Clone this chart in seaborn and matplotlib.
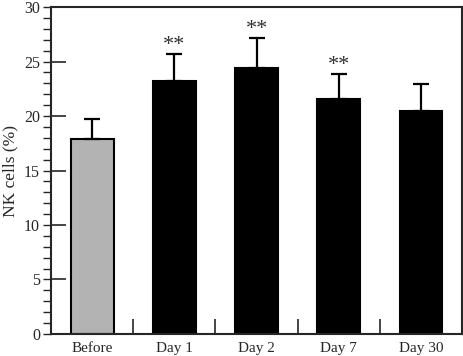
import seaborn as sns
import matplotlib.pyplot as plt
import matplotlib.ticker as mticker
import pandas as pd
import numpy as np

# values
groups = ["Before", "Day 1", "Day 2", "Day 7", "Day 30"]
nk_mean = [17.9, 23.2, 24.4, 21.6, 20.5]
nk_sd = [1.8, 2.5, 2.8, 2.3, 2.4]
signif = ["", "**", "**", "**", ""]
colors = ["#b3b3b3", "black", "black", "black", "black"]

df = pd.DataFrame({"group": groups, "nk": nk_mean})

sns.set_style("ticks")
plt.rcParams["font.family"] = ["Liberation Serif", "DejaVu Serif"]
plt.rcParams["axes.linewidth"] = 1.5

fig = plt.figure(figsize=(4.64, 3.56), dpi=100)
ax = fig.add_axes([0.11, 0.062, 0.886, 0.918])

sns.barplot(data=df, x="group", y="nk", hue="group", palette=colors,
            legend=False, errorbar=None, width=0.52,
            edgecolor="black", linewidth=1.5, ax=ax)

x = np.arange(len(groups))
ax.errorbar(x, nk_mean, yerr=[np.zeros(len(groups)), nk_sd], fmt="none",
            ecolor="black", elinewidth=1.6, capsize=5.8, capthick=1.6, zorder=1)

for xi, m, s, t in zip(x, nk_mean, nk_sd, signif):
    if t:
        ax.text(xi, m + s - 0.1, t, ha="center", va="bottom", fontsize=16,
                color="#333333")

ax.set_xlim(-0.5, 4.5)
ax.set_ylim(0, 30)
ax.set_xlabel("")
ax.set_ylabel("NK cells (%)", fontsize=12.5, labelpad=4)

# y ticks: major inward, minor (every unit) outward
ax.yaxis.set_major_locator(mticker.MultipleLocator(5))
ax.yaxis.set_minor_locator(mticker.MultipleLocator(1))
ax.yaxis.remove_overlapping_locs = False
ax.tick_params(axis="y", which="major", direction="in", length=11, width=1.2,
               labelsize=11.5, pad=8)
ax.tick_params(axis="y", which="minor", direction="out", length=6, width=1.0)

# x ticks between the bars
ax.xaxis.set_minor_locator(mticker.FixedLocator([0.5, 1.5, 2.5, 3.5]))
ax.tick_params(axis="x", which="major", length=0, labelsize=11, pad=6)
ax.tick_params(axis="x", which="minor", direction="in", length=11, width=1.2)

for sp in ax.spines.values():
    sp.set_visible(True)
    sp.set_linewidth(1.5)

fig.savefig("out.png", dpi=100)
